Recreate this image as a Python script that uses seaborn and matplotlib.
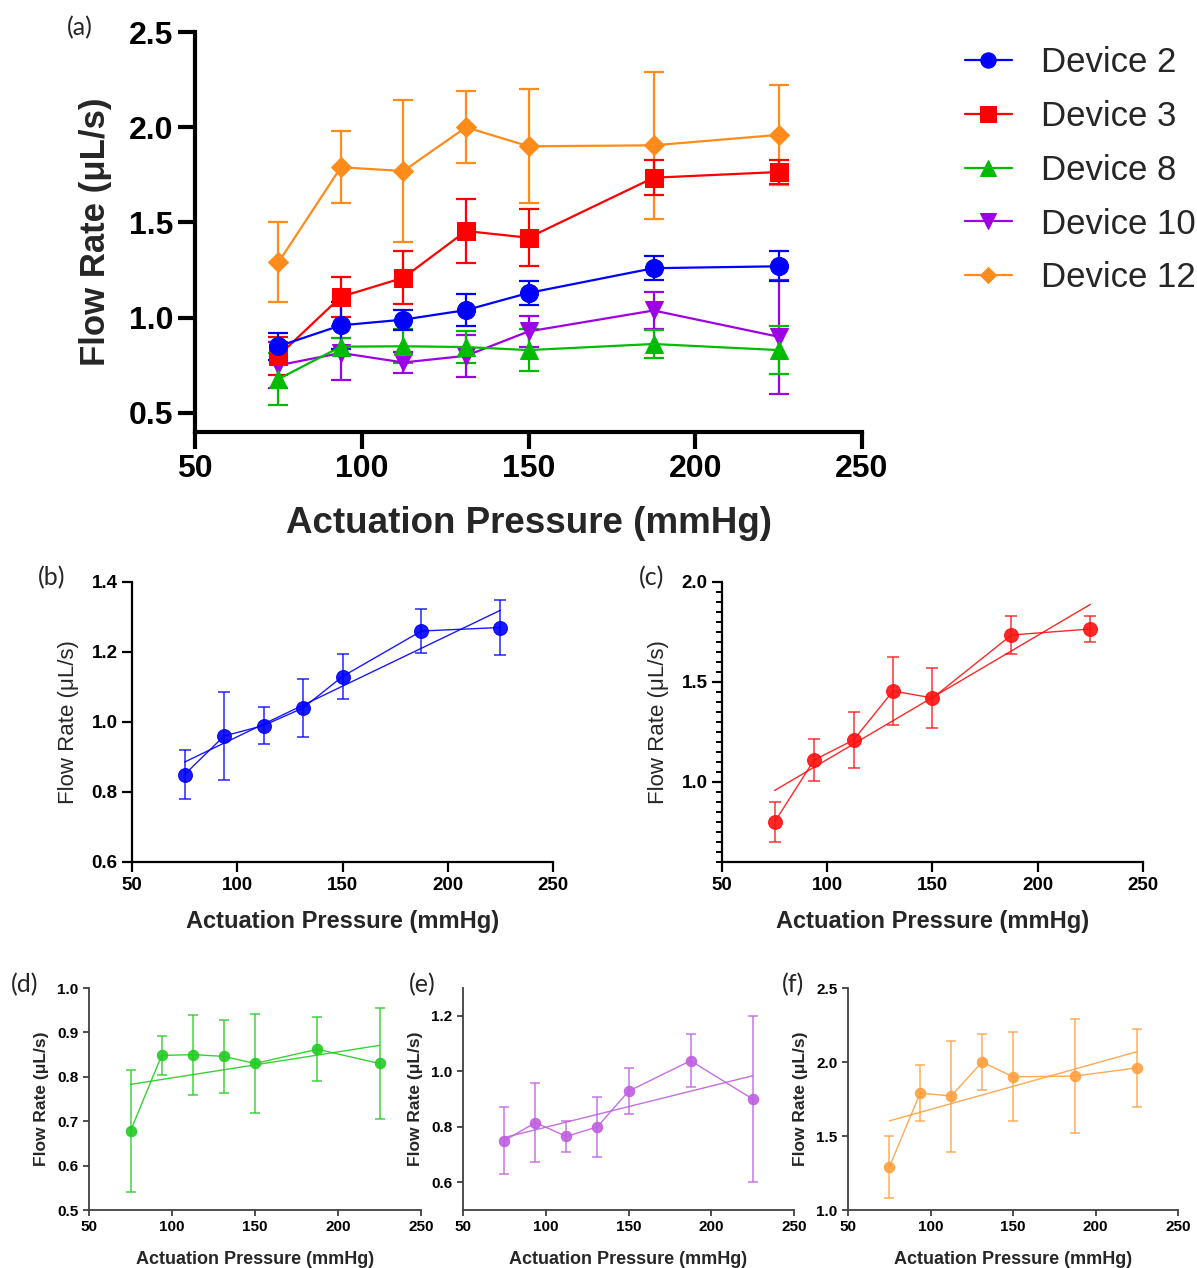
import numpy as np
import pandas as pd
import matplotlib
matplotlib.use("Agg")
import matplotlib.pyplot as plt
import seaborn as sns
from matplotlib.ticker import MultipleLocator

# data (mean and SD of flow rate, uL/s)
pressure = [75, 93.75, 112.5, 131.25, 150, 187.5, 225]

dev2_mean = [0.85, 0.96, 0.99, 1.04, 1.13, 1.26, 1.27]
dev2_sd = [0.07, 0.125, 0.053, 0.083, 0.063, 0.063, 0.078]

dev3_mean = [0.80, 1.11, 1.21, 1.455, 1.42, 1.735, 1.765]
dev3_sd = [0.10, 0.105, 0.138, 0.168, 0.15, 0.093, 0.065]

dev8_mean = [0.678, 0.848, 0.85, 0.846, 0.83, 0.862, 0.83]
dev8_sd = [0.138, 0.044, 0.09, 0.082, 0.111, 0.072, 0.125]

dev10_mean = [0.75, 0.815, 0.765, 0.80, 0.928, 1.038, 0.90]
dev10_sd = [0.12, 0.141, 0.056, 0.109, 0.082, 0.095, 0.30]

dev12_mean = [1.29, 1.79, 1.77, 2.00, 1.90, 1.905, 1.96]
dev12_sd = [0.21, 0.19, 0.375, 0.188, 0.30, 0.385, 0.263]

labels = ["Device 2", "Device 3", "Device 8", "Device 10", "Device 12"]
means = [dev2_mean, dev3_mean, dev8_mean, dev10_mean, dev12_mean]
sds = [dev2_sd, dev3_sd, dev8_sd, dev10_sd, dev12_sd]
markers = ["o", "s", "^", "v", "D"]
colors_a = ["#0000FF", "#FF0000", "#00BB00", "#9E00E6", "#FF8C1A"]
colors_small = ["#0000FF", "#FF1010", "#22CC22", "#BF5FE0", "#FFA040"]

sns.set_theme(style="ticks")
plt.rcParams['font.family'] = ['Liberation Sans', 'DejaVu Sans']

W, H = 1197, 1268
fig = plt.figure(figsize=(W / 100, H / 100), dpi=100)


def px_axes(l, t, r, b):
    return fig.add_axes([l / W, 1 - b / H, (r - l) / W, (b - t) / H])


def style_axes(ax, spine_lw, spine_col, tick_len, tick_fs):
    sns.despine(ax=ax)
    for s in ["left", "bottom"]:
        ax.spines[s].set_linewidth(spine_lw)
        ax.spines[s].set_color(spine_col)
    ax.tick_params(width=spine_lw, length=tick_len, color=spine_col,
                   labelsize=tick_fs, labelcolor="black")
    for lab in ax.get_xticklabels() + ax.get_yticklabels():
        lab.set_fontweight("bold")
    ax.set_facecolor("white")


# ---- panel (a) ----
ax = px_axes(195, 32, 862, 432)
order = [4, 3, 2, 1, 0]
for i in order:
    ax.errorbar(pressure, means[i], yerr=sds[i], fmt="none", ecolor=colors_a[i],
                elinewidth=1.6, capsize=7, capthick=1.6, zorder=2)
    sns.lineplot(x=pressure, y=means[i], ax=ax, color=colors_a[i], marker=markers[i],
                 markersize=13 if markers[i] != "D" else 10, markeredgecolor=colors_a[i],
                 linewidth=1.6, label=labels[i], zorder=3)
ax.set_xlim(50, 250)
ax.set_ylim(0.4, 2.5)
ax.set_xticks([50, 100, 150, 200, 250])
ax.set_yticks([0.5, 1.0, 1.5, 2.0, 2.5])
style_axes(ax, 3, "black", 12, 23)
ax.set_xlabel("Actuation Pressure (mmHg)", fontsize=26.5, fontweight="bold", labelpad=16)
ax.set_ylabel("Flow Rate (μL/s)", fontsize=25, fontweight="bold", labelpad=12)
h, l = ax.get_legend_handles_labels()
idx = [l.index(lb) for lb in labels]
ax.legend([h[k] for k in idx], [l[k] for k in idx], loc="upper left",
          bbox_to_anchor=(1.154, 0.965), frameon=False, fontsize=25,
          handlelength=1.35, handletextpad=0.85, labelspacing=0.6,
          borderpad=0, borderaxespad=0, markerscale=0.85)
fig.text(80 / W, 1 - 28 / H, "(a)", fontsize=18, ha="center", va="center",
         family=["Lato", "DejaVu Sans"])


def small_panel(ax, i, ylim, yticks, tick_fs, xlab_fs, ylab_fs, ylab_bold,
                spine_lw, spine_col, tick_len, ms, cap):
    c = colors_small[i]
    ax.errorbar(pressure, means[i], yerr=sds[i], fmt="none", ecolor=c,
                elinewidth=1.1, capsize=cap, capthick=1.1, alpha=0.85, zorder=2)
    sns.lineplot(x=pressure, y=means[i], ax=ax, color=c, marker="o",
                 markersize=ms, markeredgecolor=c, linewidth=1.0, alpha=0.9, zorder=3)
    sns.regplot(x=np.array(pressure), y=np.array(means[i]), ax=ax, ci=None,
                scatter=False, color=c, line_kws={"linewidth": 1.0, "alpha": 0.9})
    ax.set_xlim(50, 250)
    ax.set_ylim(*ylim)
    ax.set_xticks([50, 100, 150, 200, 250])
    ax.set_yticks(yticks)
    style_axes(ax, spine_lw, spine_col, tick_len, tick_fs)
    ax.set_xlabel("Actuation Pressure (mmHg)", fontsize=xlab_fs, fontweight="bold")
    ax.set_ylabel("Flow Rate (μL/s)", fontsize=ylab_fs,
                  fontweight="bold" if ylab_bold else "normal")


# ---- panel (b) ----
ax = px_axes(132, 582, 553, 862)
small_panel(ax, 0, (0.6, 1.4), [0.6, 0.8, 1.0, 1.2, 1.4], 13.5, 17, 16, False,
            1.6, "black", 7, 10, 4.5)
ax.xaxis.labelpad = 12
ax.yaxis.labelpad = 9
fig.text(52 / W, 1 - 578 / H, "(b)", fontsize=18, ha="center", va="center",
         family=["Lato", "DejaVu Sans"])

# ---- panel (c) ----
ax = px_axes(722, 582, 1143, 862)
small_panel(ax, 1, (0.6, 2.0), [1.0, 1.5, 2.0], 13.5, 17, 16, False,
            1.6, "black", 7, 10, 4.5)
ax.yaxis.set_minor_locator(MultipleLocator(0.05))
ax.tick_params(axis="y", which="minor", length=4, width=1.4, color="black")
ax.xaxis.labelpad = 12
ax.yaxis.labelpad = 9
fig.text(652 / W, 1 - 578 / H, "(c)", fontsize=18, ha="center", va="center",
         family=["Lato", "DejaVu Sans"])

# ---- panels (d), (e), (f) ----
ax = px_axes(89, 988, 421, 1210)
small_panel(ax, 2, (0.5, 1.0), [0.5, 0.6, 0.7, 0.8, 0.9, 1.0], 11, 13, 12.5, True,
            1.3, "#404040", 4, 7.5, 3.5)
ax.xaxis.labelpad = 12
ax.yaxis.labelpad = 6
fig.text(25 / W, 1 - 985 / H, "(d)", fontsize=18, ha="center", va="center",
         family=["Lato", "DejaVu Sans"])

ax = px_axes(463, 988, 794, 1210)
small_panel(ax, 3, (0.5, 1.3), [0.6, 0.8, 1.0, 1.2], 11, 13, 12.5, True,
            1.3, "#404040", 4, 7.5, 3.5)
ax.xaxis.labelpad = 12
ax.yaxis.labelpad = 6
fig.text(422 / W, 1 - 985 / H, "(e)", fontsize=18, ha="center", va="center",
         family=["Lato", "DejaVu Sans"])

ax = px_axes(848, 988, 1178, 1210)
small_panel(ax, 4, (1.0, 2.5), [1.0, 1.5, 2.0, 2.5], 11, 13, 12.5, True,
            1.3, "#404040", 4, 7.5, 3.5)
ax.xaxis.labelpad = 12
ax.yaxis.labelpad = 6
fig.text(793 / W, 1 - 985 / H, "(f)", fontsize=18, ha="center", va="center",
         family=["Lato", "DejaVu Sans"])

fig.savefig("out.png", dpi=100, facecolor="white")
